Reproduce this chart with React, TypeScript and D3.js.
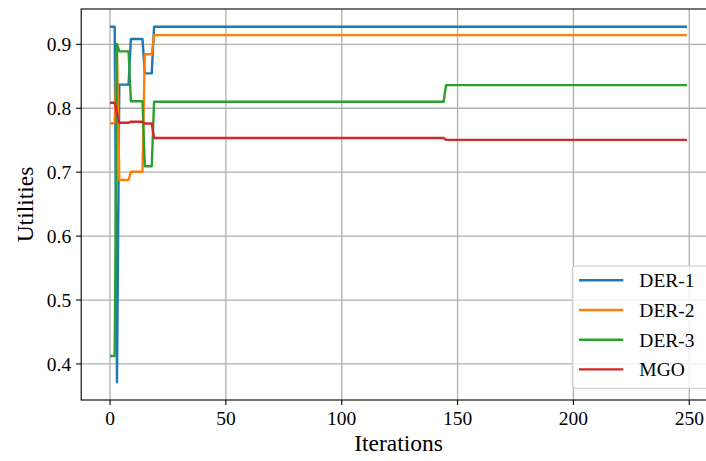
import React from "react";
import * as d3 from "d3";

// Number of iterations recorded (0 .. 249)
const iterationCount = 250;

// Each series is stored as [iteration, utility] change points:
// the utility holds from that iteration until the next change point.
const der1Changes: [number, number][] = [
  [0, 0.9275],
  [3, 0.3714],
  [4, 0.837],
  [9, 0.9083],
  [15, 0.8546],
  [19, 0.9275],
];
const der2Changes: [number, number][] = [
  [0, 0.7765],
  [3, 0.889],
  [4, 0.6878],
  [9, 0.7008],
  [15, 0.8845],
  [19, 0.9145],
];
const der3Changes: [number, number][] = [
  [0, 0.4125],
  [3, 0.9005],
  [4, 0.889],
  [9, 0.8111],
  [15, 0.7092],
  [19, 0.8102],
  [145, 0.8362],
];
const mgoChanges: [number, number][] = [
  [0, 0.8087],
  [3, 0.7925],
  [4, 0.7774],
  [9, 0.779],
  [15, 0.7762],
  [19, 0.7535],
  [145, 0.7506],
];

const seriesNames = ["DER-1", "DER-2", "DER-3", "MGO"];
const seriesColors = ["#1f77b4", "#ff7f0e", "#2ca02c", "#d62728"];
const xTicks = [0, 50, 100, 150, 200, 250];
const yTicks = [0.4, 0.5, 0.6, 0.7, 0.8, 0.9];

function expand(changes: [number, number][]): number[] {
  const out: number[] = [];
  for (let i = 0; i < iterationCount; i++) {
    let v = changes[0][1];
    for (const [start, val] of changes) if (i >= start) v = val;
    out.push(v);
  }
  return out;
}

const W = 706;
const H = 461;
const plot = { left: 81.2, right: 715.8, top: 9, bottom: 400 };
const font = "'Liberation Serif', 'Times New Roman', Times, serif";

export default function App() {
  const series = [der1Changes, der2Changes, der3Changes, mgoChanges].map(expand);
  const all = series.flat();
  const [ymin, ymax] = d3.extent(all) as [number, number];
  const ypad = (ymax - ymin) * 0.05;
  const xpad = (iterationCount - 1) * 0.05;

  const x = d3
    .scaleLinear()
    .domain([-xpad, iterationCount - 1 + xpad])
    .range([plot.left, plot.right]);
  const y = d3
    .scaleLinear()
    .domain([ymin - ypad, ymax + ypad])
    .range([plot.bottom, plot.top]);

  const line = d3
    .line<number>()
    .x((_, i) => x(i))
    .y((d) => y(d));

  const legend = { x: 572.3, y: 266, w: 140, h: 122.3, row0: 280.3, rowGap: 29.7 };

  return (
    <svg
      width={W}
      height={H}
      style={{ position: "absolute", left: 0, top: 0, background: "#fff" }}
      fontFamily={font}
    >
      <defs>
        <clipPath id="plot-area">
          <rect x={plot.left} y={plot.top} width={plot.right - plot.left} height={plot.bottom - plot.top} />
        </clipPath>
      </defs>
      <rect width={W} height={H} fill="#fff" />

      {/* grid */}
      <g stroke="#b0b0b0" strokeWidth={1.3}>
        {xTicks.map((t) => (
          <line key={"gx" + t} x1={x(t)} x2={x(t)} y1={plot.top} y2={plot.bottom} />
        ))}
        {yTicks.map((t) => (
          <line key={"gy" + t} x1={plot.left} x2={plot.right} y1={y(t)} y2={y(t)} />
        ))}
      </g>

      {/* series */}
      <g clipPath="url(#plot-area)" fill="none" strokeWidth={2.4} strokeLinejoin="round">
        {series.map((s, k) => (
          <path key={seriesNames[k]} d={line(s) ?? ""} stroke={seriesColors[k]} />
        ))}
      </g>

      {/* spines */}
      <rect
        x={plot.left}
        y={plot.top}
        width={plot.right - plot.left}
        height={plot.bottom - plot.top}
        fill="none"
        stroke="#000"
        strokeWidth={1.1}
      />

      {/* x axis */}
      <g>
        {xTicks.map((t) => (
          <g key={"xt" + t}>
            <line x1={x(t)} x2={x(t)} y1={plot.bottom} y2={plot.bottom + 5} stroke="#000" strokeWidth={1.1} />
            <text x={x(t)} y={plot.bottom + 25} textAnchor="middle" fontSize={19.5} fill="#000">
              {t}
            </text>
          </g>
        ))}
        <text x={(plot.left + plot.right) / 2} y={451} textAnchor="middle" fontSize={23.5} fill="#000">
          Iterations
        </text>
      </g>

      {/* y axis */}
      <g>
        {yTicks.map((t) => (
          <g key={"yt" + t}>
            <line x1={plot.left - 5} x2={plot.left} y1={y(t)} y2={y(t)} stroke="#000" strokeWidth={1.1} />
            <text x={plot.left - 10} y={y(t) + 7} textAnchor="end" fontSize={19.5} fill="#000">
              {d3.format(".1f")(t)}
            </text>
          </g>
        ))}
        <text
          transform={`translate(33, ${(plot.top + plot.bottom) / 2}) rotate(-90)`}
          textAnchor="middle"
          fontSize={23.5}
          fill="#000"
        >
          Utilities
        </text>
      </g>

      {/* legend */}
      <g>
        <rect
          x={legend.x}
          y={legend.y}
          width={legend.w}
          height={legend.h}
          rx={3}
          fill="#fff"
          fillOpacity={0.8}
          stroke="#cccccc"
          strokeWidth={1.1}
        />
        {seriesNames.map((name, k) => {
          const ry = legend.row0 + k * legend.rowGap;
          return (
            <g key={"lg" + name}>
              <line x1={579} x2={623.3} y1={ry} y2={ry} stroke={seriesColors[k]} strokeWidth={2.4} />
              <text x={639.3} y={ry + 7} fontSize={19.5} fill="#000">
                {name}
              </text>
            </g>
          );
        })}
      </g>
    </svg>
  );
}
